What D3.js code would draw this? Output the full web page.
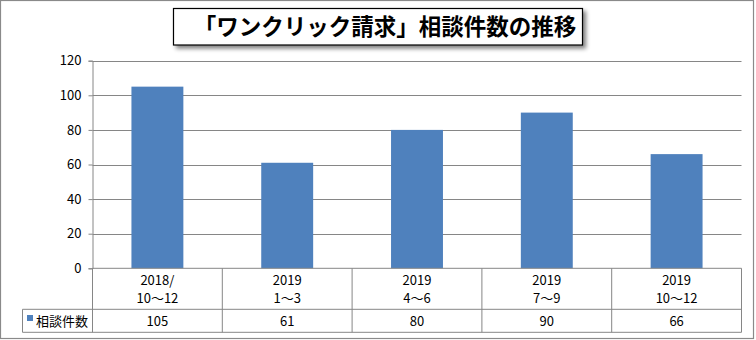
<!DOCTYPE html>
<html><head><meta charset="utf-8">
<script src="https://cdn.jsdelivr.net/npm/d3@7"></script>
<style>
html,body{margin:0;padding:0;background:#fff;}
svg{display:block;}
text{font-family:"Noto Sans CJK JP","Noto Sans",sans-serif;}
</style></head>
<body>
<svg id="c" width="756" height="340"></svg>
<script>
const title = "「ワンクリック請求」相談件数の推移";
const seriesName = "相談件数";
const categoriesLine1 = ["2018/", "2019", "2019", "2019", "2019"];
const categoriesLine2 = ["10～12", "1～3", "4～6", "7～9", "10～12"];
const values = [105, 61, 80, 90, 66];
const yTicks = [0, 20, 40, 60, 80, 100, 120];

(function draw() {
const svg = d3.select("#c");
const gridColor = "#868686";
const barColor = "#4F81BD";

// outer frame
svg.append("rect").attr("x", 0.5).attr("y", 0.5).attr("width", 753).attr("height", 338)
  .attr("fill", "#fff").attr("stroke", "#8a8a8a").attr("stroke-width", 1.2);

const pLeft = 92.5, pRight = 741.5, pTop = 60.7, pBottom = 268.3;
const x = d3.scaleBand().domain(d3.range(values.length)).range([pLeft, pRight]).paddingInner(0.6).paddingOuter(0.3);
const band = d3.scaleBand().domain(d3.range(values.length)).range([pLeft, pRight]);
const y = d3.scaleLinear().domain([0, 120]).range([pBottom, pTop]);

// gridlines
svg.append("g").selectAll("line").data(yTicks.filter(d => d > 0)).join("line")
  .attr("x1", pLeft).attr("x2", pRight)
  .attr("y1", d => Math.round(y(d)) + 0.5).attr("y2", d => Math.round(y(d)) + 0.5)
  .attr("stroke", gridColor).attr("stroke-width", 1);

// y axis
const yAxis = d3.axisLeft(y).tickValues(yTicks).tickSize(4).tickPadding(7);
const ga = svg.append("g").attr("transform", `translate(${pLeft},0)`).call(yAxis);
ga.select(".domain").attr("stroke", gridColor);
ga.selectAll(".tick line").attr("stroke", gridColor);
ga.selectAll(".tick text").attr("font-size", 13).attr("fill", "#000")
  .style("font-family", "'Noto Sans CJK JP',sans-serif");

// bars
svg.append("g").selectAll("rect").data(values).join("rect")
  .attr("x", (d, i) => x(i)).attr("width", x.bandwidth())
  .attr("y", d => y(d)).attr("height", d => y(0) - y(d))
  .attr("fill", barColor);

// data table
const rowMid = 309.3, rowBot = 332.3, legLeft = 22.5;
const tg = svg.append("g").attr("stroke", gridColor).attr("stroke-width", 1).attr("fill", "none");
tg.append("line").attr("x1", pLeft).attr("x2", pRight).attr("y1", pBottom).attr("y2", pBottom);
tg.append("line").attr("x1", legLeft).attr("x2", pRight).attr("y1", rowMid).attr("y2", rowMid);
tg.append("line").attr("x1", legLeft).attr("x2", pRight).attr("y1", rowBot).attr("y2", rowBot);
tg.append("line").attr("x1", legLeft).attr("x2", legLeft).attr("y1", rowMid).attr("y2", rowBot);
const bounds = d3.range(values.length + 1).map(i => i < values.length ? band(i) : pRight);
tg.selectAll("line.v").data(bounds).join("line").attr("class", "v")
  .attr("x1", d => d).attr("x2", d => d).attr("y1", pBottom).attr("y2", rowBot);

const cx = i => band(i) + band.bandwidth() / 2;
svg.append("g").selectAll("text").data(categoriesLine1).join("text")
  .attr("x", (d, i) => cx(i)).attr("y", 285).attr("text-anchor", "middle")
  .attr("font-size", 13).attr("fill", "#000").text(d => d);
svg.append("g").selectAll("text").data(categoriesLine2).join("text")
  .attr("x", (d, i) => cx(i)).attr("y", 303).attr("text-anchor", "middle")
  .attr("font-size", 13).attr("fill", "#000").text(d => d);
svg.append("g").selectAll("text").data(values).join("text")
  .attr("x", (d, i) => cx(i)).attr("y", 325.5).attr("text-anchor", "middle")
  .attr("font-size", 13).attr("fill", "#000").text(d => d);

// legend key
svg.append("rect").attr("x", 27).attr("y", 315).attr("width", 6).attr("height", 6).attr("fill", barColor);
svg.append("text").attr("x", 36).attr("y", 325.5).attr("font-size", 13).attr("fill", "#000").text(seriesName);

// title box with shadow
const defs = svg.append("defs");
const f = defs.append("filter").attr("id", "sh").attr("x", "-10%").attr("y", "-30%").attr("width", "120%").attr("height", "170%");
f.append("feGaussianBlur").attr("in", "SourceAlpha").attr("stdDeviation", 2);
f.append("feOffset").attr("dx", 3).attr("dy", 3).attr("result", "ob");
f.append("feComponentTransfer").append("feFuncA").attr("type", "linear").attr("slope", 0.5);
const fm = f.append("feMerge");
fm.append("feMergeNode");
fm.append("feMergeNode").attr("in", "SourceGraphic");
svg.append("rect").attr("x", 173.5).attr("y", 8.5).attr("width", 409).attr("height", 36.5)
  .attr("fill", "#fff").attr("stroke", "#000").attr("stroke-width", 1.2).attr("filter", "url(#sh)");
svg.append("text").attr("x", 385).attr("y", 35).attr("text-anchor", "middle")
  .attr("font-size", 22.5).attr("font-weight", "bold").attr("fill", "#000").text(title);
})();
</script>
</body></html>
